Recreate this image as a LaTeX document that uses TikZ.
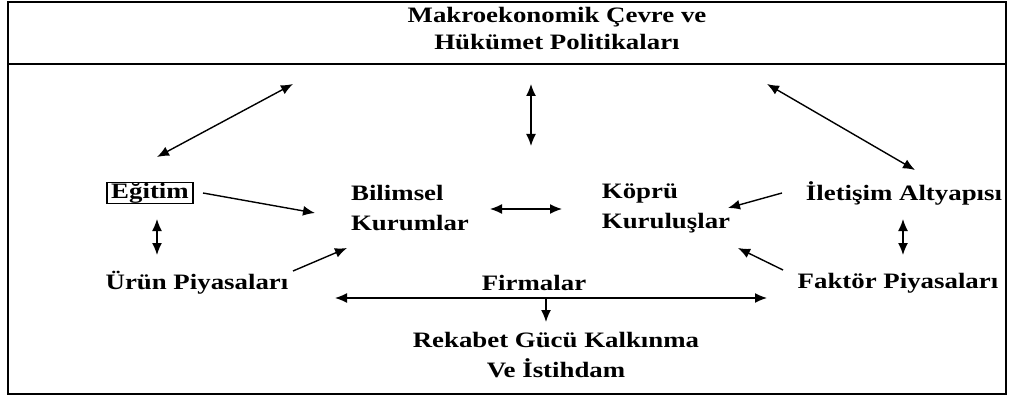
\documentclass[tikz,border=0pt]{standalone}
\usepackage{fontspec}
\setmainfont[FakeStretch=1.22]{Liberation Serif}
\usepackage{tikz}
\usetikzlibrary{arrows.meta}

\begin{document}
\begin{tikzpicture}[x=1pt,y=-1pt]
            \tikzset{
                label/.style={font=\fontsize{22}{30}\selectfont\bfseries, inner sep=0pt, align=left},
                frame/.style={draw, line width=1.6pt},
                edge/.style={-{Latex[length=12pt,width=10pt]}, line width=1.4pt},
                both/.style={{Latex[length=12pt,width=10pt]}-{Latex[length=12pt,width=10pt]}, line width=1.4pt}
            }
            \useasboundingbox (0,0) rectangle (1011,398);
            % frame
            \draw[frame] (8,2) rectangle (1006,394);
            \draw[frame] (8,64) -- (1006,64);

            % nodes
            \node[label, align=center, font=\fontsize{22}{27}\selectfont\bfseries] (macro) at (557,28.5) {Makroekonomik Çevre ve\\Hükümet Politikaları};
            \node[label, draw, line width=1.6pt, inner xsep=4pt, minimum height=21pt] (egitim) at (150,193) {Eğitim};
            \node[label] (urun) at (197,283) {Ürün Piyasaları};
            \node[label] (bilimsel) at (410,208) {Bilimsel\\Kurumlar};
            \node[label] (kopru) at (666,208) {Köprü\\Kuruluşlar};
            \node[label] (iletisim) at (904,193) {İletişim Altyapısı};
            \node[label] (faktor) at (898,283) {Faktör Piyasaları};
            \node[label] (firmalar) at (534,283) {Firmalar};
            \node[label, align=center] (rekabet) at (556,355) {Rekabet Gücü Kalkınma\\Ve İstihdam};

            % connector ends
            \coordinate (m1) at (293,84);
            \coordinate (m2) at (531,84);
            \coordinate (m3) at (767,84);
            \coordinate (e1) at (157,157);
            \coordinate (e2) at (203,193);
            \coordinate (e3) at (157,219);
            \coordinate (u1) at (157,255);
            \coordinate (u2) at (293,271);
            \coordinate (b1) at (315,213);
            \coordinate (b2) at (347,248);
            \coordinate (b3) at (490,209);
            \coordinate (k1) at (562,209);
            \coordinate (k2) at (728,208);
            \coordinate (k3) at (738,248);
            \coordinate (i1) at (915,170);
            \coordinate (i2) at (782,193);
            \coordinate (i3) at (903,219);
            \coordinate (f1) at (903,255);
            \coordinate (f2) at (783,270);
            \coordinate (fl) at (335,298);
            \coordinate (fr) at (767,298);
            \coordinate (fm) at (546,298);
            \coordinate (r1) at (546,322);

            % edges
            \draw[both] (e1) -- (m1);
            \draw[both] (m2) -- (531,146);
            \draw[both] (m3) -- (i1);
            \draw[edge] (e2) -- (b1);
            \draw[both] (e3) -- (u1);
            \draw[edge] (u2) -- (b2);
            \draw[both] (b3) -- (k1);
            \draw[edge] (i2) -- (k2);
            \draw[both] (i3) -- (f1);
            \draw[edge] (f2) -- (k3);
            \draw[both] (fl) -- (fr);
            \draw[edge] (fm) -- (r1);
\end{tikzpicture}
\end{document}
